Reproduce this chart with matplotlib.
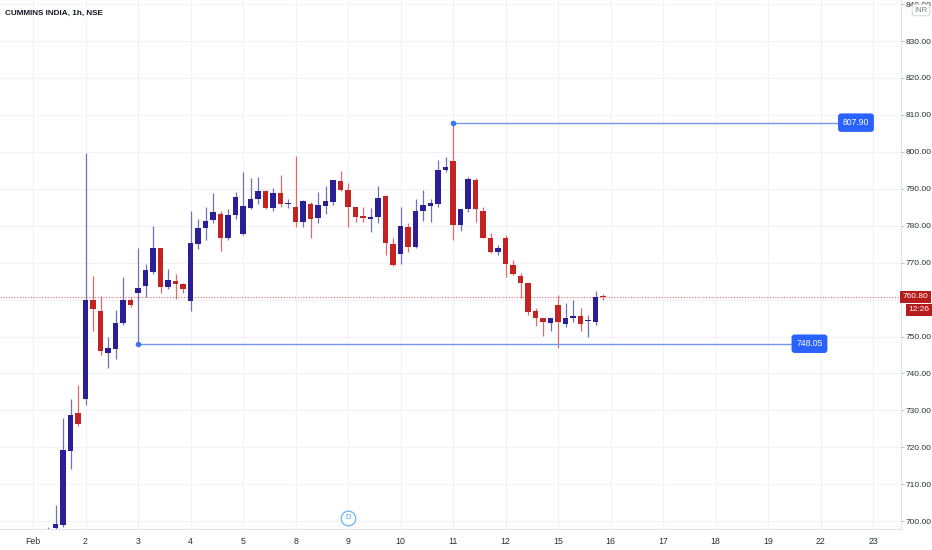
import matplotlib
matplotlib.use('Agg')
import matplotlib.pyplot as plt
import matplotlib.transforms as mtransforms

plt.rcParams['font.family'] = ['Liberation Sans', 'DejaVu Sans']

# hourly candles, 7 per trading day, starting Feb 1
opens = [688, 690, 692, 698.1, 699.1, 718.9, 729.3,
         733.2, 760.0, 756.9, 745.5, 746.6, 753.6, 759.8,
         761.7, 763.7, 767.5, 773.9, 763.3, 765.0, 764.1,
         759.7, 775.0, 779.3, 781.6, 783.2, 776.6, 782.9,
         777.7, 784.9, 787.1, 789.5, 784.8, 788.8, 785.8,
         785.1, 780.9, 785.9, 782.0, 785.4, 786.3, 792.1,
         789.7, 785.0, 782.6, 781.9, 782.3, 788.0, 775.0,
         772.4, 779.6, 774.2, 783.9, 785.4, 786.0, 795.1,
         797.6, 780.2, 784.6, 792.4, 784.0, 776.8, 772.8,
         776.8, 769.5, 766.3, 764.5, 756.9, 754.9, 753.7,
         758.6, 753.5, 754.9, 755.5, 754.1, 754.0, 760.85]
highs = [692, 694, 698.4, 704.3, 727.9, 733.2, 737.0,
         799.6, 766.5, 760.9, 750.0, 757.3, 766.0, 760.8,
         774.0, 769.6, 780.0, 774.0, 768.4, 766.9, 764.6,
         784.0, 781.9, 785.0, 788.8, 784.0, 784.5, 789.0,
         794.6, 792.8, 793.1, 789.6, 790.2, 793.8, 787.2,
         798.9, 787.0, 786.5, 789.0, 790.8, 792.4, 794.9,
         791.5, 785.2, 785.0, 784.9, 790.8, 788.2, 776.8,
         785.1, 780.6, 787.2, 789.7, 787.2, 797.9, 798.7,
         807.9, 784.5, 793.2, 792.8, 785.0, 778.0, 774.9,
         777.5, 770.7, 767.2, 764.6, 757.8, 755.0, 755.1,
         761.3, 759.0, 759.8, 757.6, 755.8, 762.4, 761.4]
lows = [684, 686, 690, 697.9, 698.5, 714.2, 725.8,
        731.4, 751.4, 744.9, 741.4, 743.9, 753.0, 757.9,
        748.05, 760.8, 767.0, 761.9, 762.8, 760.2, 761.7,
        757.0, 773.6, 776.2, 780.8, 773.2, 776.0, 781.8,
        777.5, 784.5, 785.9, 784.5, 784.0, 785.0, 784.9,
        779.7, 779.7, 776.7, 780.7, 783.2, 785.5, 789.5,
        779.6, 781.0, 781.0, 778.2, 780.6, 772.0, 769.0,
        769.6, 772.8, 774.0, 781.4, 781.1, 785.0, 794.6,
        776.2, 778.5, 783.6, 781.1, 776.6, 772.5, 772.0,
        766.2, 766.7, 760.5, 755.9, 752.8, 750.1, 751.4,
        746.8, 752.6, 753.8, 751.6, 749.8, 753.2, 759.8]
closes = [690, 692, 695, 699.3, 719.2, 728.8, 726.4,
          760.0, 757.4, 746.1, 747.0, 753.6, 759.8, 758.5,
          763.1, 767.9, 773.9, 763.5, 765.3, 764.1, 763.0,
          775.2, 779.4, 781.4, 783.8, 776.7, 783.0, 787.8,
          785.3, 787.2, 789.5, 784.7, 788.8, 785.9, 786.1,
          780.9, 786.6, 781.7, 785.6, 786.6, 792.3, 789.7,
          785.2, 782.4, 782.1, 782.3, 787.5, 775.2, 769.4,
          779.8, 774.3, 784.0, 785.6, 786.1, 795.0, 795.8,
          780.1, 784.4, 792.6, 784.4, 776.8, 772.8, 773.9,
          769.6, 766.9, 764.5, 756.6, 754.9, 753.8, 754.9,
          754.0, 754.9, 755.6, 753.3, 754.6, 760.8, 760.8]

day_labels = ['Feb', '2', '3', '4', '5', '8', '9', '10', '11', '12',
              '15', '16', '17', '18', '19', '22', '23']
price_ticks = [700, 710, 720, 730, 740, 750, 760, 770, 780, 790,
               800, 810, 820, 830, 840]
high_line = 807.90
low_line = 748.05
last_price = 760.80
countdown = '12:26'

bars_per_day = 7
up_body, down_body = '#2a1f96', '#c42323'
up_wick, down_wick = '#7470b8', '#dc6b6b'

fig = plt.figure(figsize=(9.32, 5.5), dpi=100)
ax = fig.add_axes([0, 21 / 550, 901 / 932, 529 / 550])

xs = list(range(len(opens)))
body_cols, wick_cols, bottoms, heights = [], [], [], []
for o, c in zip(opens, closes):
    up = c >= o
    body_cols.append(up_body if up else down_body)
    wick_cols.append(up_wick if up else down_wick)
    bottoms.append(min(o, c))
    heights.append(max(abs(c - o), 0.3))

ax.vlines(xs, lows, highs, colors=wick_cols, lw=0.9, zorder=3)
ax.bar(xs, heights, bottom=bottoms, width=0.72, color=body_cols, lw=0, zorder=4)

# current price line
ax.axhline(last_price, color='#e57373', ls=(0, (1, 1.5)), lw=0.8, zorder=2)

# horizontal drawings
ax.plot([56, 107.3], [high_line, high_line], color='#6f97f0', lw=1, zorder=5)
ax.plot(56, high_line, 'o', ms=3, color='#3f74f0', zorder=6)
ax.plot([14, 101.2], [low_line, low_line], color='#6f97f0', lw=1, zorder=5)
ax.plot(14, low_line, 'o', ms=3, color='#3f74f0', zorder=6)

box = dict(boxstyle='round,pad=0.55,rounding_size=0.35', fc='#2962ff', ec='none')
ax.text(109.7, high_line, f'{high_line:.2f}', ha='center', va='center',
        color='white', fontsize=6.2, bbox=box, zorder=7)
ax.text(103.5, low_line, f'{low_line:.2f}', ha='center', va='center',
        color='white', fontsize=6.2, bbox=box, zorder=7)

ax.set_xlim(-4.4, 115.7)
ax.set_ylim(697.9, 841.1)

ax.set_xticks([i * bars_per_day for i in range(len(day_labels))])
ax.set_xticklabels(day_labels)
ax.yaxis.tick_right()
ax.set_yticks(price_ticks)
# 760.00 sits under the last-price tag
ax.set_yticklabels(['' if v == 760 else f'{v:.2f}' for v in price_ticks])
ax.tick_params(axis='x', length=0, pad=6, labelsize=6.3, labelcolor='#2a2e39')
ax.tick_params(axis='y', length=2, width=0.6, color='#b2b5be', pad=1.2,
               labelsize=6, labelcolor='#2a2e39')

ax.grid(True, color='#f0f3fa', lw=0.8, zorder=0)
ax.set_axisbelow(True)
for side in ['top', 'left']:
    ax.spines[side].set_visible(False)
for side in ['right', 'bottom']:
    ax.spines[side].set_color('#e0e3eb')
    ax.spines[side].set_linewidth(0.8)

# price axis labels
side_tr = mtransforms.blended_transform_factory(ax.transAxes, ax.transData)
ax.text(915.5 / 901, last_price, f'{last_price:.2f}', transform=side_tr,
        ha='center', va='center', color='white', fontsize=6, clip_on=False,
        bbox=dict(boxstyle='square,pad=0.3', fc='#b71c1c', ec='none'), zorder=8)
ax.text(918.5 / 901, 757.3, countdown, transform=side_tr,
        ha='center', va='center', color='white', fontsize=6, clip_on=False,
        bbox=dict(boxstyle='square,pad=0.3', fc='#b71c1c', ec='none'), zorder=8)

# dividend marker
bottom_tr = mtransforms.blended_transform_factory(ax.transData, ax.transAxes)
ax.plot(42, 0.0214, 'o', ms=10.5, mfc='white', mec='#64b5f6', mew=0.9,
        transform=bottom_tr, clip_on=False, zorder=6)
ax.text(42, 0.0214, 'D', transform=bottom_tr, ha='center', va='center',
        fontsize=5.5, color='#42a5f5', zorder=7)

fig.text(921 / 932, 1 - 10 / 550, 'INR', ha='center', va='center', fontsize=5.5,
         color='#787b86',
         bbox=dict(boxstyle='round,pad=0.3,rounding_size=0.3', fc='white', ec='#d1d4dc', lw=0.7))
fig.text(5 / 932, 1 - 13 / 550, 'CUMMINS INDIA, 1h, NSE', ha='left', va='center',
         fontsize=5.9, fontweight='bold', color='#131722')

fig.savefig('out.png', dpi=100, facecolor='white')
